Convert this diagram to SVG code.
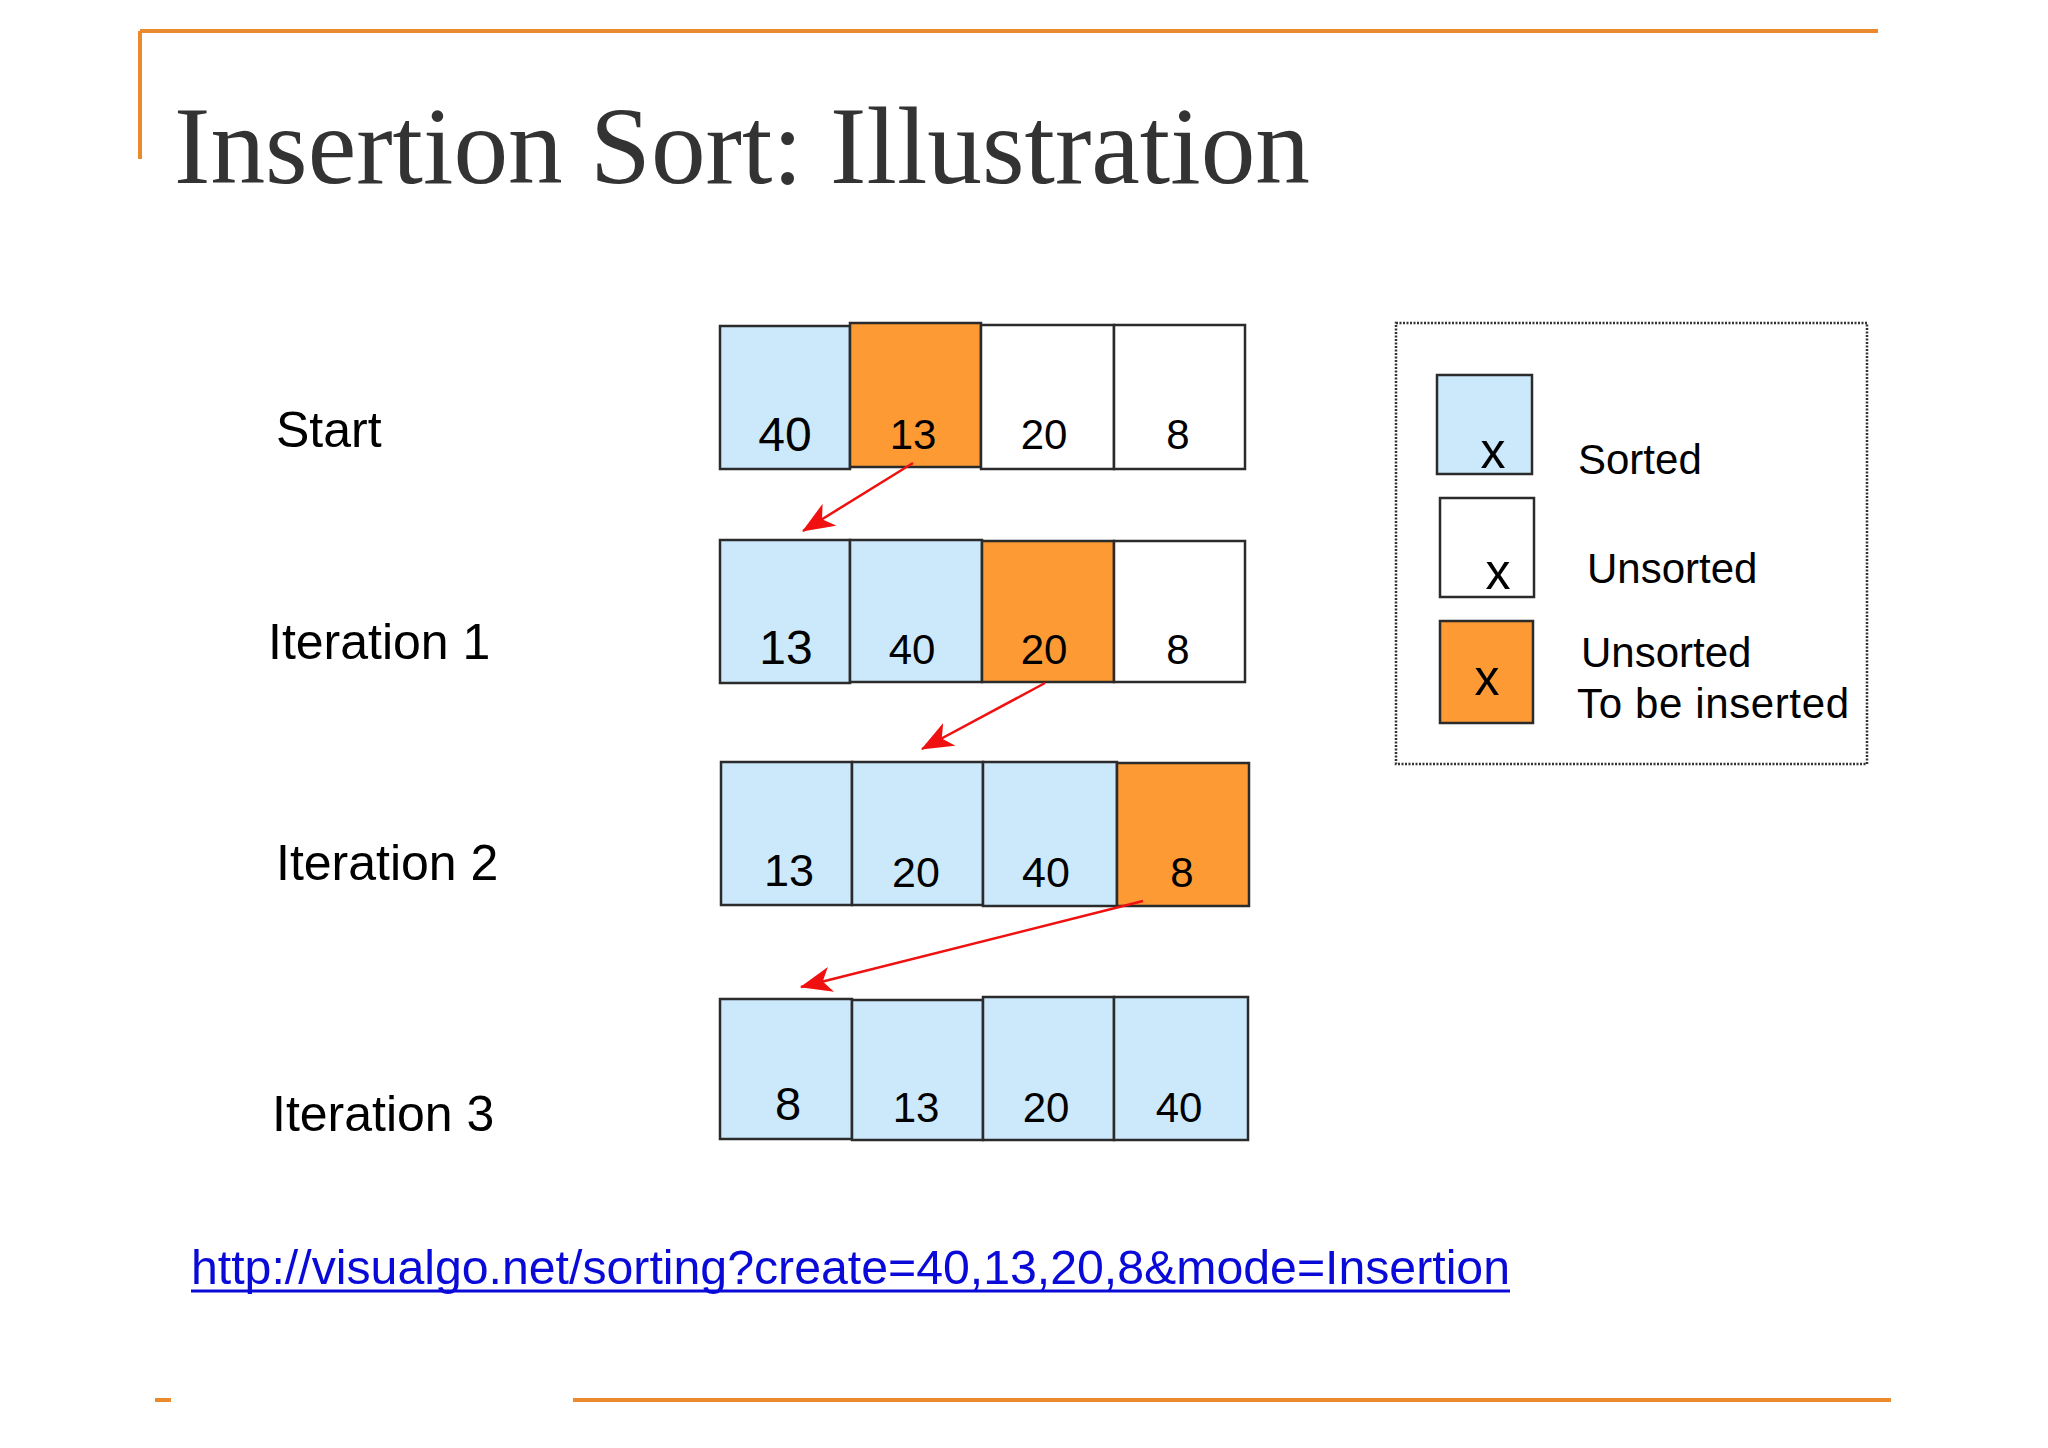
<svg xmlns="http://www.w3.org/2000/svg" width="2048" height="1448" viewBox="0 0 2048 1448">
<style>
.sans{font-family:"Liberation Sans",Arial,sans-serif;fill:#000}
.cell{stroke:#2b2b2b;stroke-width:2.5}
.b{fill:#cce9fb}
.o{fill:#fd9a33}
.w{fill:#ffffff}
.num{font-family:"Liberation Sans",Arial,sans-serif;font-size:42px;text-anchor:middle;fill:#000}
.big{font-size:48px}
.lbl{font-family:"Liberation Sans",Arial,sans-serif;font-size:50px;fill:#000}
.leg{font-family:"Liberation Sans",Arial,sans-serif;font-size:42px;fill:#000}
.arrow{stroke:#f01010;stroke-width:2.5;fill:none;marker-end:url(#ah)}
.frame{stroke:#ea8a2c;stroke-width:4;fill:none}
</style>
<defs>
<marker id="ah" markerUnits="userSpaceOnUse" viewBox="0 0 30 24" refX="29" refY="12" markerWidth="32" markerHeight="26" orient="auto">
<path d="M0,0 L30,12 L0,24 L8,12 Z" fill="#f01010"/>
</marker>
</defs>
<rect width="2048" height="1448" fill="#ffffff"/>
<g id="frame">
<path class="frame" d="M140,31 L1878,31 M140,31 L140,159"/>
<path class="frame" d="M155,1400 L171,1400 M573,1400 L1891,1400"/>
</g>
<g id="title">
<text x="174" y="183" font-family="'Liberation Serif','Times New Roman',serif" font-size="110" fill="#333333" textLength="1136" lengthAdjust="spacingAndGlyphs">Insertion Sort: Illustration</text>
</g>
<g id="labels">
<text class="lbl" x="276" y="447">Start</text>
<text class="lbl" x="268" y="659">Iteration 1</text>
<text class="lbl" x="276" y="880">Iteration 2</text>
<text class="lbl" x="272" y="1131">Iteration 3</text>
</g>
<g id="row-start">
<rect class="cell b" x="720" y="326" width="130" height="143"/>
<rect class="cell o" x="850" y="323" width="131" height="144"/>
<rect class="cell w" x="981" y="325" width="133" height="144"/>
<rect class="cell w" x="1114" y="325" width="131" height="144"/>
<text class="num big" x="785" y="451">40</text>
<text class="num" x="913" y="449">13</text>
<text class="num" x="1044" y="449">20</text>
<text class="num" x="1178" y="449">8</text>
</g>
<g id="row-iter1">
<rect class="cell b" x="720" y="540" width="130" height="143"/>
<rect class="cell b" x="850" y="540" width="132" height="142"/>
<rect class="cell o" x="982" y="541" width="132" height="141"/>
<rect class="cell w" x="1114" y="541" width="131" height="141"/>
<text class="num big" x="786" y="664">13</text>
<text class="num" x="912" y="664">40</text>
<text class="num" x="1044" y="664">20</text>
<text class="num" x="1178" y="664">8</text>
</g>
<g id="row-iter2">
<rect class="cell b" x="721" y="762" width="131" height="143"/>
<rect class="cell b" x="852" y="762" width="131" height="143"/>
<rect class="cell b" x="983" y="762" width="134" height="144"/>
<rect class="cell o" x="1117" y="763" width="132" height="143"/>
<text class="num" x="789" y="886" style="font-size:45px">13</text>
<text class="num" x="916" y="887" style="font-size:43px">20</text>
<text class="num" x="1046" y="887" style="font-size:43px">40</text>
<text class="num" x="1182" y="887">8</text>
</g>
<g id="row-iter3">
<rect class="cell b" x="720" y="999" width="132" height="140"/>
<rect class="cell b" x="852" y="1000" width="131" height="140"/>
<rect class="cell b" x="983" y="997" width="131" height="143"/>
<rect class="cell b" x="1114" y="997" width="134" height="143"/>
<text class="num" x="788" y="1120" style="font-size:47px">8</text>
<text class="num" x="916" y="1122">13</text>
<text class="num" x="1046" y="1122">20</text>
<text class="num" x="1179" y="1122">40</text>
</g>
<g id="connectors">
<line class="arrow" x1="913" y1="463" x2="803" y2="531"/>
<line class="arrow" x1="1045" y1="683" x2="922" y2="749"/>
<line class="arrow" x1="1143" y1="901" x2="801" y2="987"/>
</g>
<g id="legend">
<rect x="1396" y="323" width="471" height="441" fill="none" stroke="#333" stroke-width="2.5" stroke-dasharray="2 1.5"/>
<rect class="cell b" x="1437" y="375" width="95" height="99"/>
<text class="num" x="1493" y="468" style="font-size:50px">x</text>
<rect class="cell w" x="1440" y="498" width="94" height="99"/>
<text class="num" x="1498" y="589" style="font-size:50px">x</text>
<rect class="cell o" x="1440" y="621" width="93" height="102"/>
<text class="num" x="1487" y="695" style="font-size:50px">x</text>
<text class="leg" x="1578" y="474">Sorted</text>
<text class="leg" x="1587" y="583">Unsorted</text>
<text class="leg" x="1581" y="667">Unsorted</text>
<text class="leg" x="1577" y="718" textLength="272">To be inserted</text>
</g>
<g id="link">
<text x="191" y="1284" font-family="'Liberation Sans',Arial,sans-serif" font-size="48" fill="#0a0ad8" textLength="1319" lengthAdjust="spacingAndGlyphs">http://visualgo.net/sorting?create=40,13,20,8&amp;mode=Insertion</text>
<line x1="191" y1="1291" x2="1510" y2="1291" stroke="#0a0ad8" stroke-width="3"/>
</g>
</svg>
